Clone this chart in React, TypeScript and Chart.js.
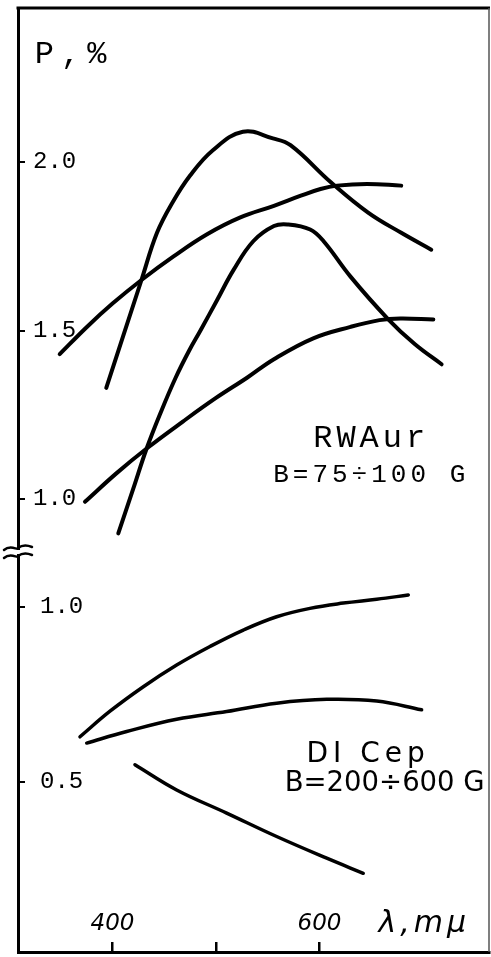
import { useEffect, useRef } from 'react';
import { Chart, registerables } from 'chart.js';

Chart.register(...registerables);

// ---- RW Aur (upper panel), wavelength in mμ, polarization P in % ----
const lambdaA = [394, 428, 443, 458, 475, 497, 526, 555, 572, 611, 647, 679, 708];
const polA = [1.33, 1.65, 1.79, 1.88, 1.96, 2.035, 2.09, 2.07, 2.05, 1.94, 1.85, 1.79, 1.74];

const lambdaB = [349, 375, 400, 428, 459, 491, 523, 556, 582, 601, 617, 646, 679];
const polB = [1.43, 1.51, 1.58, 1.65, 1.72, 1.785, 1.835, 1.87, 1.9, 1.92, 1.93, 1.935, 1.93];

const lambdaC = [405.6, 420, 433, 447, 461, 474, 485, 501, 517, 536, 556, 569, 591, 604, 630, 666, 692, 718];
const polC = [0.898, 1.03, 1.15, 1.26, 1.36, 1.44, 1.5, 1.59, 1.68, 1.765, 1.81, 1.815, 1.8, 1.765, 1.66, 1.535, 1.46, 1.4];

const lambdaD = [373.4, 404, 433, 468, 500, 530, 556, 594, 630, 658, 678, 710];
const polD = [0.992, 1.077, 1.15, 1.23, 1.3, 1.36, 1.415, 1.477, 1.511, 1.531, 1.536, 1.533];

// ---- DI Cep (lower panel) ----
const lambdaE = [368.6, 397.6, 429.8, 462, 494.2, 526.4, 558.6, 590.8, 623, 655.3, 685.8];
const polE = [0.629, 0.702, 0.772, 0.834, 0.887, 0.934, 0.972, 0.996, 1.011, 1.022, 1.034];

const lambdaF = [375.1, 413.7, 462, 510.3, 558.6, 607, 655.3, 698.7];
const polF = [0.611, 0.644, 0.679, 0.701, 0.725, 0.736, 0.731, 0.706];

const lambdaG = [421.7, 462, 510.3, 558.6, 607, 642.3];
const polG = [0.549, 0.477, 0.411, 0.344, 0.282, 0.239];

// ---- axes ----
const xTickValues = [400, 500, 600];
const xTickLabels = ['400', '', '600'];
const upperTickValues = [1.0, 1.5, 2.0];
const lowerTickValues = [0.5, 1.0];

const X_MIN = 308.7;
const X_MAX = 763.8;
const UPPER_MIN = 0.843;
const UPPER_MAX = 2.457;
const LOWER_MIN = 0.014;
const LOWER_MAX = 1.157;

const toPoints = (xs: number[], ys: number[]) => xs.map((x, i) => ({ x, y: ys[i] }));

const zeroPad = (axis: any) => {
  axis.paddingLeft = 0;
  axis.paddingRight = 0;
  axis.paddingTop = 0;
  axis.paddingBottom = 0;
};

const decorPlugin = {
  id: 'decor',
  afterDraw(chart: any) {
    const { ctx, chartArea: a, scales } = chart;
    const xs = scales.x;
    const yt = scales.yTop;
    const yb = scales.yBot;
    ctx.save();
    // frame: top and right
    ctx.strokeStyle = '#000';
    ctx.lineCap = 'butt';
    ctx.lineWidth = 3;
    ctx.beginPath();
    ctx.moveTo(a.left - 1.5, a.top);
    ctx.lineTo(a.right + 1, a.top);
    ctx.stroke();
    ctx.lineWidth = 1.5;
    ctx.strokeStyle = '#555';
    ctx.beginPath();
    ctx.moveTo(a.right, a.top);
    ctx.lineTo(a.right, a.bottom);
    ctx.stroke();

    // axis break mark
    const yBreak = yt.bottom;
    const x0 = a.left - 14;
    const x1 = a.left + 14;
    ctx.fillStyle = '#fff';
    ctx.fillRect(a.left - 3, yBreak - 2, 6, 4);
    ctx.strokeStyle = '#000';
    ctx.lineWidth = 2.5;
    ctx.lineCap = 'round';
    for (const dy of [-4, 4]) {
      const y = yBreak + dy;
      ctx.beginPath();
      ctx.moveTo(x0, y + 2);
      ctx.bezierCurveTo(x0 + 7, y - 4, x0 + 14, y + 3, (x0 + x1) / 2, y);
      ctx.bezierCurveTo(x1 - 10, y - 3, x1 - 5, y - 3, x1, y - 1);
      ctx.stroke();
    }

    // annotations
    ctx.fillStyle = '#000';
    ctx.textBaseline = 'alphabetic';

    ctx.font = '32px "Liberation Mono"';
    (ctx as any).letterSpacing = '7px';
    ctx.textAlign = 'left';
    ctx.fillText('P,%', xs.getPixelForValue(325), yt.getPixelForValue(2.294));

    ctx.textAlign = 'center';
    ctx.font = '32px "Liberation Mono"';
    (ctx as any).letterSpacing = '4px';
    ctx.fillText('RWAur', xs.getPixelForValue(650), yt.getPixelForValue(1.154));

    ctx.font = '26px "Liberation Mono"';
    (ctx as any).letterSpacing = '4px';
    ctx.fillText('B=75÷100 G', xs.getPixelForValue(650), yt.getPixelForValue(1.05));

    ctx.font = '28px "DejaVu Sans"';
    (ctx as any).letterSpacing = '5px';
    ctx.fillText('DI Cep', xs.getPixelForValue(647), yb.getPixelForValue(0.557));

    ctx.font = '27.5px "DejaVu Sans"';
    (ctx as any).letterSpacing = '0px';
    ctx.fillText('B=200÷600 G', xs.getPixelForValue(663), yb.getPixelForValue(0.474));

    ctx.textAlign = 'left';
    ctx.font = 'italic 30px "DejaVu Sans"';
    (ctx as any).letterSpacing = '4px';
    ctx.fillText('λ,mμ', xs.getPixelForValue(657), yb.getPixelForValue(0.072));
    ctx.restore();
  },
};

export default function App() {
  const canvasRef = useRef<HTMLCanvasElement | null>(null);

  useEffect(() => {
    const canvas = canvasRef.current;
    if (!canvas) return;
    const upperStyle = { borderColor: '#000', borderWidth: 4, pointRadius: 0, fill: false, tension: 0.4, borderCapStyle: 'round' as const, borderJoinStyle: 'round' as const, yAxisID: 'yTop' };
    const lowerStyle = { ...upperStyle, borderWidth: 3.5, yAxisID: 'yBot' };
    const chart = new Chart(canvas, {
      type: 'line',
      data: {
        datasets: [
          { label: 'RW Aur 1', data: toPoints(lambdaA, polA), ...upperStyle },
          { label: 'RW Aur 2', data: toPoints(lambdaB, polB), ...upperStyle },
          { label: 'RW Aur 3', data: toPoints(lambdaC, polC), ...upperStyle },
          { label: 'RW Aur 4', data: toPoints(lambdaD, polD), ...upperStyle },
          { label: 'DI Cep 1', data: toPoints(lambdaE, polE), ...lowerStyle },
          { label: 'DI Cep 2', data: toPoints(lambdaF, polF), ...lowerStyle },
          { label: 'DI Cep 3', data: toPoints(lambdaG, polG), ...lowerStyle },
        ],
      },
      options: {
        animation: false,
        responsive: false,
        devicePixelRatio: 1,
        layout: { padding: { left: 18, top: 8, right: 2, bottom: 5 } },
        plugins: { legend: { display: false }, tooltip: { enabled: false } },
        scales: {
          x: {
            type: 'linear',
            position: 'bottom',
            min: X_MIN,
            max: X_MAX,
            afterBuildTicks: (axis: any) => {
              axis.ticks = xTickValues.map((v) => ({ value: v }));
            },
            afterFit: (axis: any) => {
              axis.height = 0;
              zeroPad(axis);
            },
            ticks: {
              autoSkip: false,
              maxRotation: 0,
              mirror: true,
              padding: 14,
              color: '#000',
              font: { family: '"DejaVu Sans"', size: 23, style: 'italic' },
              callback: (v: any) => xTickLabels[xTickValues.indexOf(Number(v))] ?? '',
            },
            grid: { drawOnChartArea: false, drawTicks: true, tickLength: -10, color: '#000', lineWidth: 2.5 },
            border: { display: true, color: '#000', width: 3 },
          },
          yBot: {
            type: 'linear',
            position: 'left',
            stack: 'p',
            stackWeight: 400,
            min: LOWER_MIN,
            max: LOWER_MAX,
            afterBuildTicks: (axis: any) => {
              axis.ticks = lowerTickValues.map((v) => ({ value: v }));
            },
            afterFit: (axis: any) => {
              axis.width = 0;
              zeroPad(axis);
            },
            ticks: {
              mirror: true,
              padding: 22,
              color: '#000',
              font: { family: '"Liberation Mono"', size: 24 },
              callback: (v: any) => Number(v).toFixed(1),
            },
            grid: { drawOnChartArea: false, drawTicks: true, tickLength: -7, color: '#000', lineWidth: 2 },
            border: { display: true, color: '#000', width: 3 },
          },
          yTop: {
            type: 'linear',
            position: 'left',
            stack: 'p',
            stackWeight: 544,
            min: UPPER_MIN,
            max: UPPER_MAX,
            afterBuildTicks: (axis: any) => {
              axis.ticks = upperTickValues.map((v) => ({ value: v }));
            },
            afterFit: (axis: any) => {
              axis.width = 0;
              zeroPad(axis);
            },
            ticks: {
              mirror: true,
              padding: 15,
              color: '#000',
              font: { family: '"Liberation Mono"', size: 24 },
              callback: (v: any) => Number(v).toFixed(1),
            },
            grid: { drawOnChartArea: false, drawTicks: true, tickLength: -7, color: '#000', lineWidth: 2 },
            border: { display: true, color: '#000', width: 3 },
          },
        },
      },
      plugins: [decorPlugin],
    });
    return () => chart.destroy();
  }, []);

  return (
    <div style={{ position: 'fixed', left: 0, top: 0, width: 491, height: 957, background: '#fff' }}>
      <canvas ref={canvasRef} width={491} height={957} style={{ display: 'block' }} />
    </div>
  );
}
